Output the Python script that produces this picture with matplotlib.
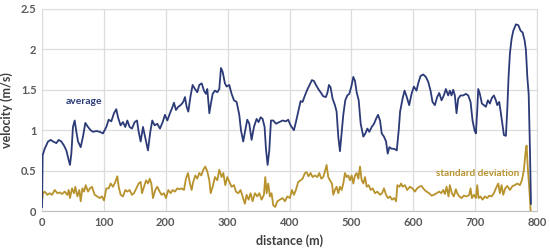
import matplotlib.pyplot as plt
from matplotlib.ticker import FuncFormatter

# average velocity along the reach
avg_dist = [0, 1, 4.3, 9.7, 14, 17.8, 23.2, 26.9, 31.2, 35.5, 39.3, 43.1, 45.2, 47.4, 50, 52.8, 55.5,
            58.2, 62.5, 66.2, 70, 74.3, 78.6, 82.4, 87.8, 93.2, 98.5, 103.9, 107.7, 112, 116.3, 120,
            122.8, 127, 130.8, 134.6, 137.9, 141.6, 145.4, 149.7, 153.5, 156.2, 159.4, 163.2, 167,
            171.2, 175, 178.2, 182, 186.3, 190.6, 195, 198.7, 202.5, 206.8, 211, 213.2, 216.5, 220.2,
            224, 228.3, 231, 233.7, 236.4, 240.2, 243.4, 247.2, 251, 254.2, 258, 261.7, 265, 267.1,
            270.4, 272.5, 275.8, 279.5, 283.3, 286.5, 289.2, 292, 295.6, 298.3, 302.6, 306.4, 310.2,
            314.5, 318.8, 321.5, 325.2, 328, 331.7, 335, 338.7, 342.5, 346.8, 350, 353.3, 356.5,
            359.7, 361.9, 364.6, 367.3, 370, 373.8, 378.1, 383.5, 388.8, 394.2, 397.9, 401.7, 407.1,
            410.3, 414.1, 417.9, 421.1, 424.9, 428.6, 433, 436.2, 439.4, 442.7, 446.5, 450.2, 454.5,
            458.8, 461.5, 463.7, 466.4, 469.6, 473.4, 476.1, 478.8, 481.5, 484.2, 486.9, 490.1,
            493.4, 496.6, 499.9, 503.1, 505.8, 508.5, 511.8, 515, 519.3, 522.6, 525.8, 529, 532.8,
            536.6, 539.8, 543, 546.3, 549, 552.7, 556, 558.7, 561.4, 565.2, 569, 573.3, 576.5,
            578.7, 582.7, 585.9, 589.1, 593.4, 597.2, 601, 605.2, 608, 611.7, 616, 620.3, 624.1,
            627.9, 631.1, 634.9, 638.6, 641.9, 645.7, 649.4, 652.7, 656.4, 659.1, 661.8, 664.5,
            667.2, 669.9, 672.6, 676.4, 680.7, 685, 688.8, 692.6, 695.8, 699, 701.2, 703.4, 705,
            707.6, 710.9, 714.1, 717.3, 720.6, 723.8, 727.1, 730.3, 733.5, 735.7, 738.9, 741.6,
            744.3, 746.5, 749.7, 751.9, 754, 756.2, 758.9, 761.6, 765.9, 769.7, 773.5, 776.7, 780,
            782.1, 784.3, 786.5, 788.6, 790.2]
avg_vel = [0.05, 0.69, 0.77, 0.86, 0.88, 0.86, 0.84, 0.88, 0.86, 0.81, 0.75, 0.63, 0.57, 0.71, 1.04, 1.12, 0.98,
           0.86, 0.79, 0.92, 1.09, 1.04, 1.0, 0.98, 0.99, 0.98, 0.96, 1.04, 1.13, 1.11, 1.21, 1.26,
           1.16, 1.06, 1.10, 1.04, 1.12, 1.04, 1.02, 1.10, 1.12, 0.98, 0.86, 1.04, 0.90,
           0.75, 0.98, 1.12, 1.06, 1.08, 1.02, 1.10, 1.19, 1.12, 1.21, 1.29, 1.34, 1.25, 1.29,
           1.31, 1.35, 1.41, 1.29, 1.23, 1.43, 1.56, 1.51, 1.47, 1.56, 1.58, 1.49, 1.45, 1.51,
           1.21, 1.31, 1.45, 1.49, 1.47, 1.51, 1.77, 1.72, 1.58, 1.54, 1.56, 1.45, 1.37,
           1.35, 1.19, 1.0, 0.86, 0.98, 1.13, 1.08, 0.88, 1.04, 1.14, 1.10, 1.16, 1.14,
           1.04, 0.77, 0.57, 0.75, 1.12, 1.12, 1.08, 1.10, 1.12, 1.11, 1.13, 1.06, 1.0,
           1.10, 1.23, 1.36, 1.35, 1.43, 1.50, 1.57, 1.62, 1.61, 1.56, 1.51, 1.47, 1.42,
           1.41, 1.47, 1.56, 1.53, 1.39, 1.31, 1.23, 0.92, 0.74, 0.96, 1.19, 1.37,
           1.43, 1.45, 1.54, 1.66, 1.61, 1.47, 1.37, 1.08, 0.92, 0.96, 1.02, 0.98, 1.04,
           1.08, 1.14, 1.19, 1.12, 0.96, 0.92, 0.86, 0.71, 0.79, 0.77, 0.77, 0.75, 1.0,
           1.23, 1.39, 1.49, 1.42, 1.31, 1.45, 1.54, 1.49, 1.58, 1.67, 1.69, 1.66, 1.60,
           1.49, 1.35, 1.31, 1.41, 1.46, 1.37, 1.43, 1.51, 1.43, 1.49, 1.43, 1.50,
           1.43, 1.21, 1.39, 1.43, 1.43, 1.45, 1.43, 1.35, 1.12, 1.0, 0.96, 1.25, 1.51,
           1.45, 1.33, 1.31, 1.29, 1.37, 1.33, 1.40, 1.43, 1.37, 1.31, 1.35, 1.21,
           1.06, 0.94, 0.93, 1.25, 1.66, 1.95, 2.13, 2.23, 2.31, 2.30, 2.23, 2.21, 2.11,
           1.99, 1.66, 1.45, 0.75, 0.09]

# standard deviation of velocity
std_dist = [0, 1.6, 4.3, 8.6, 12.4, 16.2, 20.5, 24.8, 28.5, 32.3, 36.6, 40.9, 43.1, 45.2, 48.5, 51.7,
            53.8, 57.1, 60.3, 62.5, 65.2, 67.9, 70.6, 74.3, 77.5, 80.8, 85.1, 89.4, 93.2, 96.9,
            100.2, 103.9, 107.7, 110.9, 114.7, 118.5, 121.7, 123.9, 127.1, 130.9, 134.6, 137.9,
            141.6, 145.4, 148.6, 152.4, 156.2, 159.4, 161.6, 164.8, 168.1, 171.3, 174, 176.7,
            179.3, 183.1, 186.3, 190.1,
            193.3, 197, 200.3, 204.1, 207.9, 211.1, 214.9, 218.6, 221.9, 225.6, 229.4, 232.6,
            235.9, 239.1, 241.8, 244.4, 247.7, 250.9, 254.2, 257.4, 260.6, 263.9, 267.1, 270.4,
            272.5, 275.8, 279.5, 283.3, 286.5, 290.3, 293, 296.2, 299.4, 302.7, 306.4, 310.2,
            313.4, 317.2, 320.9, 324.2, 327.9, 330.6, 333.9, 337.1, 340.3, 344.1, 347.9, 351.1,
            354.9, 358.6, 360.8, 363, 365.6, 368.3, 371, 373.7, 377, 380.2,
            384.5, 388.8, 392.6, 396.4, 400.6, 403.9, 407.1, 410.3, 414.1, 417.9, 421.1, 424.9,
            427.6, 430.8, 434.1, 437.3, 441.1, 444.8, 448.1, 451.3, 454.5, 457.2, 459.9, 462.6,
            465.3, 468.6, 470.7, 473.4, 476.1, 478.8, 481.5, 484.2, 486.9, 489.6, 492.3, 495,
            497.7, 500.4, 503.1, 505.8, 508.5, 511.2, 513.9, 516.6, 519.3, 522, 524.7, 527.9,
            531.2, 534.4, 538.2, 542, 546.3, 549.5, 552.7, 556, 559.2, 562.5, 565.7, 568.9,
            572.2, 574.3, 577.5,
            580.4, 582.7, 586.4, 590.2, 594.5, 598.8, 602.6, 606.3, 609.6, 613.3, 617.1, 621.4,
            625.7, 629.5, 633.3, 637.6, 641.9, 645.1, 648.4, 651.1, 653.8, 657, 659.1, 662.4,
            665.6, 668.8, 671, 674.3, 678, 681.8, 686.1, 690.4, 692.6, 694.7, 698, 701.2, 703.4,
            705.5, 708.7, 712, 715.7, 719.5, 722.8, 726.5, 730.3, 733.5, 737.3, 740, 742.7,
            745.4, 748.6, 751.9, 756.2, 760.5, 764.2, 768, 772.3, 775.6, 778.8, 781.5, 783.1,
            785.3, 787.5, 789.6]
std_vel = [0.12, 0.22, 0.24, 0.20, 0.22, 0.20, 0.26, 0.22, 0.23, 0.21, 0.24, 0.20, 0.26, 0.16, 0.28, 0.22,
           0.30, 0.18, 0.26, 0.12, 0.28, 0.24, 0.32, 0.24, 0.28, 0.30, 0.20, 0.18, 0.16, 0.18,
           0.13, 0.28, 0.28, 0.34, 0.30, 0.36, 0.43, 0.30, 0.20, 0.18, 0.26, 0.24,
           0.26, 0.20, 0.22, 0.28, 0.34, 0.36, 0.22, 0.30, 0.38, 0.34, 0.40, 0.34,
           0.16, 0.26, 0.30, 0.24,
           0.20, 0.22, 0.16, 0.26, 0.22, 0.26, 0.24, 0.28, 0.27, 0.28, 0.26, 0.40,
           0.47, 0.34, 0.26, 0.36, 0.44, 0.40, 0.47, 0.44, 0.51, 0.55, 0.49, 0.38,
           0.22, 0.30, 0.42, 0.38, 0.51, 0.42, 0.47, 0.32, 0.42, 0.36, 0.30, 0.32,
           0.24, 0.22, 0.26, 0.18, 0.09, 0.20, 0.14, 0.22, 0.12, 0.22, 0.18, 0.22,
           0.14, 0.20, 0.42, 0.22, 0.34, 0.18, 0.22, 0.07, 0.05, 0.12,
           0.14, 0.16, 0.12, 0.18, 0.16, 0.26, 0.20, 0.26, 0.36, 0.38, 0.40, 0.47,
           0.48, 0.43, 0.47, 0.42, 0.44, 0.42, 0.47, 0.40, 0.42, 0.49, 0.57, 0.42,
           0.38, 0.34, 0.20, 0.26, 0.30, 0.22, 0.30, 0.26, 0.34, 0.47, 0.42, 0.44,
           0.38, 0.44, 0.34, 0.44, 0.47, 0.40, 0.55, 0.38, 0.34, 0.42, 0.30, 0.32,
           0.26, 0.28, 0.22, 0.24, 0.20, 0.22, 0.28, 0.20, 0.16, 0.18, 0.14, 0.16,
           0.12, 0.32, 0.30,
           0.34, 0.30, 0.32, 0.26, 0.30, 0.28, 0.24, 0.28, 0.30, 0.31, 0.27, 0.24,
           0.22, 0.19, 0.20, 0.22, 0.24, 0.22, 0.26, 0.21, 0.30, 0.18, 0.32, 0.22,
           0.18, 0.27, 0.22, 0.18, 0.16, 0.19, 0.18, 0.20, 0.28, 0.16, 0.20, 0.16, 0.32,
           0.16, 0.18, 0.14, 0.18, 0.16, 0.19, 0.18, 0.22, 0.28, 0.34, 0.22, 0.32,
           0.20, 0.28, 0.31, 0.26, 0.31, 0.32, 0.34, 0.32, 0.38, 0.51, 0.73, 0.81,
           0.51, 0.28, 0.01]

x_ticks = [0, 100, 200, 300, 400, 500, 600, 700, 800]
y_ticks = [0, 0.5, 1, 1.5, 2, 2.5]

navy = '#2C3B78'
gold = '#B8922C'

plt.rcParams['font.family'] = ['Lato', 'DejaVu Sans']

fig = plt.figure(figsize=(5.5, 2.5), dpi=100)
ax = fig.add_axes([0.0764, 0.156, 0.9, 0.808])

ax.plot(std_dist, std_vel, color=gold, lw=1.3, zorder=3)
ax.plot(avg_dist, avg_vel, color=navy, lw=1.3, zorder=4)

ax.set_xlim(0, 800)
ax.set_ylim(0, 2.5)
ax.set_xticks(x_ticks)
ax.set_yticks(y_ticks)
ax.yaxis.set_major_formatter(FuncFormatter(lambda v, p: f'{v:g}'))
ax.grid(True, color='#dcdcdc', lw=0.9)
ax.set_axisbelow(True)
for s in ax.spines.values():
    s.set_color('#dcdcdc')
ax.spines['bottom'].set_color('#bfbfbf')
ax.tick_params(length=0, labelsize=8, labelcolor='#595959', pad=4)
for lab in ax.get_xticklabels() + ax.get_yticklabels():
    lab.set_fontweight('bold')

ax.set_xlabel('distance (m)', fontsize=9, fontweight='bold', color='#404040', labelpad=5)
ax.set_ylabel('velocity (m/s)', fontsize=9, fontweight='bold', color='#404040', labelpad=6)

ax.text(38, 1.32, 'average', color=navy, fontsize=7.5, fontweight='bold')
ax.text(637, 0.43, 'standard deviation', color=gold, fontsize=7.2, fontweight='bold')

fig.savefig('out.png', dpi=100)
